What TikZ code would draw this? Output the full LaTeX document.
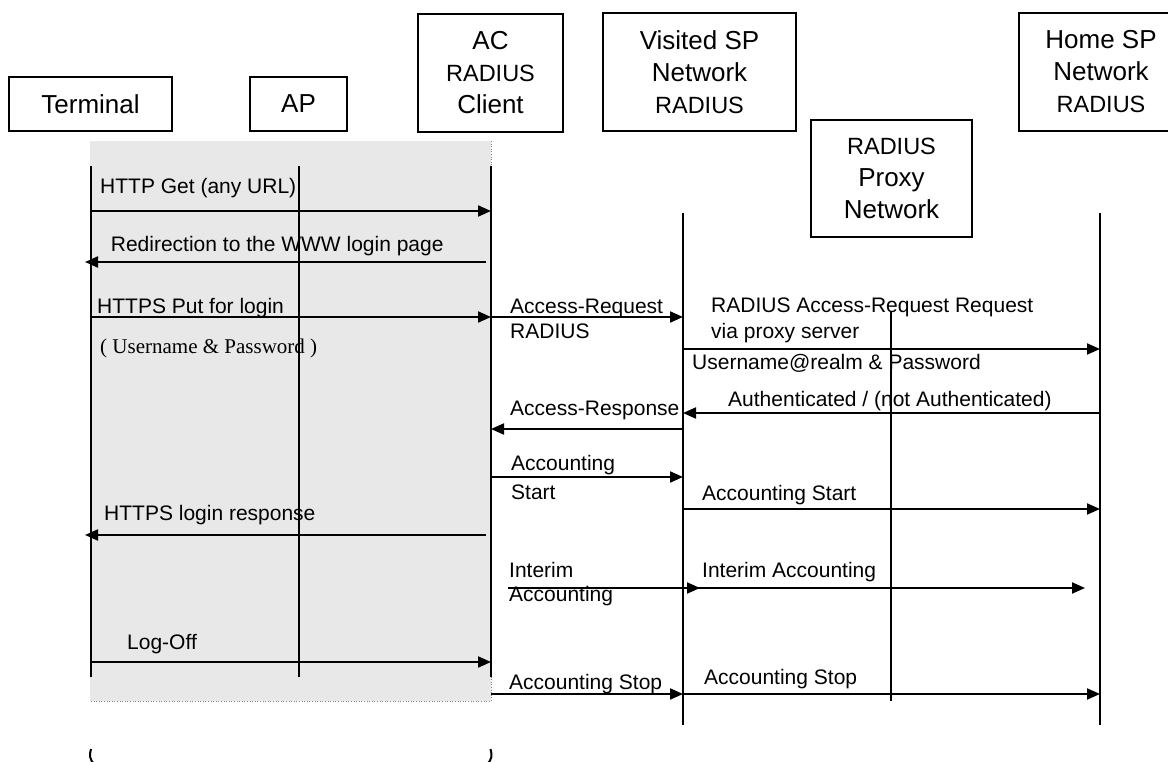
\documentclass[tikz,border=0pt]{standalone}
\usepackage{fontspec}
\setmainfont{Liberation Sans}
\newfontfamily\timesf{Liberation Serif}
\usetikzlibrary{arrows.meta}
\newcommand\radf{\fontsize{23.5}{32}\selectfont}
\begin{document}
\begin{tikzpicture}[x=1pt,y=-1pt,
  actor/.style={draw, line width=1.8pt, inner sep=0pt, align=center,
    font=\fontsize{26}{32}\selectfont},
  life/.style={line width=2pt},
  msg/.style={line width=2pt, -{Triangle[length=13pt,width=11pt]}},
  lbl/.style={anchor=base west, inner sep=0pt, font=\fontsize{21}{25}\selectfont},
  bracketline/.style={line width=2pt}]
\useasboundingbox (0,0) rectangle (1168,762);
\clip (0,0) rectangle (1168,762);
% grey area
\fill[black!9] (90,141) rectangle (491,701);
\draw[black!50, line width=0.6pt, dotted] (491,141) -- (491,701) -- (90,701);
% actors
\node[actor, minimum width=163pt, minimum height=54pt] (term) at (90.5,104) {Terminal};
\node[actor, minimum width=97pt, minimum height=54pt] (ap) at (298.5,104) {AP};
\node[actor, minimum width=145pt, minimum height=118pt] (ac) at (490.5,73) {AC\\{\radf RADIUS}\\Client};
\node[actor, minimum width=193pt, minimum height=118pt] (vis) at (699.5,72) {Visited SP\\Network\\{\radf RADIUS}};
\node[actor, minimum width=161pt, minimum height=117pt] (proxy) at (891.5,178.5) {{\radf RADIUS}\\Proxy\\Network};
\node[actor, minimum width=164pt, minimum height=118pt] (home) at (1101,72) {Home SP\\Network\\{\radf RADIUS}};
% lifelines
\coordinate (Ttop) at (90.5,166);  \coordinate (Tbot) at (90.5,677);
\coordinate (Atop) at (298.5,166); \coordinate (Abot) at (298.5,677);
\coordinate (Ctop) at (491,166);   \coordinate (Cbot) at (491,677);
\coordinate (Vtop) at (683,213);   \coordinate (Vbot) at (683,725);
\coordinate (Ptop) at (891,311);   \coordinate (Pbot) at (891,701);
\coordinate (Htop) at (1100,213);  \coordinate (Hbot) at (1100,725);
\foreach \a/\b in {Ttop/Tbot,Atop/Abot,Ctop/Cbot,Vtop/Vbot,Ptop/Pbot,Htop/Hbot}
  \draw[life] (\a) -- (\b);
% message end points
\coordinate (m1a) at (90.5,211);  \coordinate (m1b) at (491,211);
\coordinate (m2a) at (486,262);   \coordinate (m2b) at (85,262);
\coordinate (m3a) at (90.5,317);  \coordinate (m3b) at (491,317);
\coordinate (m4a) at (491,317);   \coordinate (m4b) at (683,317);
\coordinate (m5a) at (683,349);   \coordinate (m5b) at (1100,349);
\coordinate (m6a) at (1100,413);  \coordinate (m6b) at (683,413);
\coordinate (m7a) at (683,429);   \coordinate (m7b) at (491,429);
\coordinate (m8a) at (491,477);   \coordinate (m8b) at (683,477);
\coordinate (m9a) at (683,509);   \coordinate (m9b) at (1100,509);
\coordinate (m10a) at (486,535);  \coordinate (m10b) at (85,535);
\coordinate (m11a) at (508,588);  \coordinate (m11b) at (700,588);
\coordinate (m12a) at (683,588);  \coordinate (m12b) at (1085,588);
\coordinate (m13a) at (90.5,662); \coordinate (m13b) at (491,662);
\coordinate (m14a) at (491,694);  \coordinate (m14b) at (683,694);
\coordinate (m15a) at (683,694);  \coordinate (m15b) at (1100,694);
\foreach \i in {1,...,15}
  \draw[msg] (m\i a) -- (m\i b);
% labels
\node[lbl] (l1) at (100,193.5) {HTTP Get (any URL)};
\node[lbl] (l2) at (110.7,251.5) {Redirection to the WWW login page};
\node[lbl] (l3) at (97,313.5) {HTTPS Put for login};
\node[lbl, font=\timesf\fontsize{21}{25}\selectfont] (l3b) at (100,353) {( Username \& Password )};
\node[lbl] (l4) at (510,313.5) {Access-Request};
\node[lbl] (l4b) at (510,338.5) {RADIUS};
\node[lbl] (l5) at (711,312.5) {RADIUS Access-Request Request};
\node[lbl] (l5b) at (711,338.5) {via proxy server};
\node[lbl] (l5c) at (692,369.5) {Username@realm \& Password};
\node[lbl] (l6) at (728,406.5) {Authenticated / (not Authenticated)};
\node[lbl] (l7) at (510,415.5) {Access-Response};
\node[lbl] (l8) at (511,470.5) {Accounting};
\node[lbl] (l8b) at (511,499.5) {Start};
\node[lbl] (l9) at (702,500.5) {Accounting Start};
\node[lbl] (l10) at (104,520.5) {HTTPS login response};
\node[lbl] (l11) at (509,577.5) {Interim};
\node[lbl] (l11b) at (509,601.5) {Accounting};
\node[lbl] (l12) at (702,577.5) {Interim Accounting};
\node[lbl] (l13) at (127,649.5) {Log-Off};
\node[lbl] (l14) at (509,689.5) {Accounting Stop};
\node[lbl] (l15) at (704,684.5) {Accounting Stop};
% bottom bracket fragments
\coordinate (bl1) at (91,749); \coordinate (bl2) at (94,764);
\coordinate (br1) at (490.5,749);  \coordinate (br2) at (487.5,764);
\draw[bracketline] (bl1) .. controls (89,755) and (90,760) .. (bl2);
\draw[bracketline] (br1) .. controls (492.5,755) and (491.5,760) .. (br2);
\end{tikzpicture}
\end{document}
